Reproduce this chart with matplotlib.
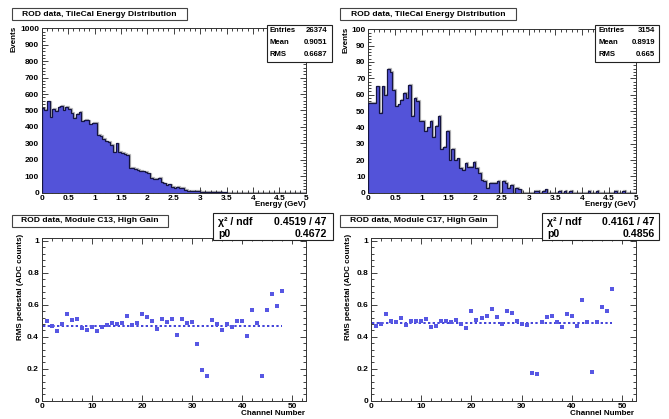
import numpy as np
import matplotlib
matplotlib.use("Agg")
import matplotlib.pyplot as plt
from matplotlib.ticker import MultipleLocator
import matplotlib.transforms as mtransforms

# ---------------- data ----------------
edges_energy = np.linspace(0, 5, 101)

hist_c13_counts = [513, 505, 555, 462, 510, 497, 520, 530, 500, 520,
                   512, 485, 456, 477, 492, 436, 442, 440, 416, 425,
                   425, 352, 345, 325, 312, 310, 290, 245, 300, 250,
                   243, 238, 232, 150, 150, 145, 140, 132, 130, 125,
                   118, 91, 83, 86, 91, 63, 57, 47, 50, 37,
                   27, 35, 27, 31, 16, 12, 12, 10, 10, 9,
                   7, 6, 5, 5, 4, 4, 3, 3, 2, 2,
                   1, 1, 1, 1, 0, 0, 1, 0, 0, 0,
                   0, 0, 0, 0, 0, 0, 0, 0, 0, 0,
                   0, 0, 0, 0, 0, 0, 0, 0, 0, 0]

hist_c17_counts = [55, 55, 55, 65, 49, 65, 60, 76, 74, 63,
                   53, 54, 57, 61, 58, 66, 47, 58, 56, 44,
                   44, 38, 40, 44, 34, 41, 47, 27, 28, 38,
                   20, 27, 20, 21, 15, 14, 18, 16, 16, 19,
                   15, 12, 8, 7, 3, 6, 6, 6, 7, 0,
                   7, 6, 3, 5, 0, 3, 2, 0, 0, 0,
                   0, 0, 1, 1, 0, 1, 2, 0, 0, 0,
                   0, 1, 0, 1, 0, 1, 0, 0, 0, 0,
                   0, 0, 1, 0, 0, 1, 0, 0, 0, 0,
                   0, 0, 1, 0, 0, 1, 0, 0, 0, 0]

channels = list(range(1, 49))
rms_c13 = [0.501, 0.470, 0.438, 0.480, 0.539, 0.503, 0.512, 0.453, 0.442, 0.461,
           0.434, 0.459, 0.474, 0.484, 0.480, 0.484, 0.532, 0.472, 0.484, 0.545,
           0.522, 0.501, 0.449, 0.512, 0.493, 0.512, 0.413, 0.512, 0.484, 0.493,
           0.354, 0.193, 0.155, 0.505, 0.480, 0.444, 0.480, 0.459, 0.501, 0.497,
           0.403, 0.566, 0.486, 0.155, 0.566, 0.669, 0.591, 0.683]
rms_c17 = [0.470, 0.480, 0.543, 0.497, 0.493, 0.514, 0.476, 0.501, 0.497, 0.497,
           0.512, 0.461, 0.470, 0.497, 0.497, 0.491, 0.503, 0.482, 0.455, 0.558,
           0.503, 0.514, 0.528, 0.574, 0.522, 0.480, 0.558, 0.547, 0.497, 0.480,
           0.476, 0.172, 0.168, 0.495, 0.524, 0.532, 0.491, 0.461, 0.545, 0.528,
           0.470, 0.629, 0.493, 0.178, 0.491, 0.587, 0.558, 0.700]

p0_c13 = 0.4672
p0_c17 = 0.4856
fit_range = [0.2, 48.0]

hist_titles = ["ROD data, TileCal Energy Distribution", "ROD data, TileCal Energy Distribution"]
graph_titles = ["ROD data, Module C13, High Gain", "ROD data, Module C17, High Gain"]
stats_hist = [[("Entries", "26374"), ("Mean", "0.9051"), ("RMS", "0.6687")],
              [("Entries", "3154"), ("Mean", "0.8919"), ("RMS", "0.665")]]
stats_fit = [[("χ² / ndf", "0.4519 / 47"), ("p0", "0.4672")],
             [("χ² / ndf", "0.4161 / 47"), ("p0", "0.4856")]]

# ---------------- style ----------------
W, H = 669, 419
FONT = "Liberation Sans"
plt.rcParams["font.family"] = [FONT, "DejaVu Sans"]

fill_col = "#5353d9"
edge_col = "#141440"
mark_col = "#5757e3"

fig = plt.figure(figsize=(W / 100, H / 100), dpi=100)
fig.patch.set_facecolor("white")


def rect(x0, y0, x1, y1):
    """pixel box (top-left origin) -> figure fraction [l, b, w, h]"""
    return [x0 / W, 1 - y1 / H, (x1 - x0) / W, (y1 - y0) / H]


def fx(x):
    return x / W


def fy(y):
    return 1 - y / H


def style_axes(ax, xmaj, xmin, ymaj, ymin):
    ax.xaxis.set_major_locator(MultipleLocator(xmaj))
    ax.xaxis.set_minor_locator(MultipleLocator(xmin))
    ax.yaxis.set_major_locator(MultipleLocator(ymaj))
    ax.yaxis.set_minor_locator(MultipleLocator(ymin))
    ax.tick_params(which="both", direction="in", top=True, right=True,
                   labelsize=6, pad=2, width=0.6, colors="#222222")
    ax.tick_params(which="major", length=4.0)
    ax.tick_params(which="minor", length=2.0)
    for lab in ax.get_xticklabels() + ax.get_yticklabels():
        lab.set_fontweight("bold")
        lab.set_color("black")
    for s in ax.spines.values():
        s.set_linewidth(0.7)
        s.set_color("#333333")


def title_box(x0, y0, x1, y1, text, fs):
    fig.patches.append(plt.Rectangle((fx(x0), fy(y1)), fx(x1) - fx(x0), fy(y0) - fy(y1),
                                     transform=fig.transFigure, facecolor="white",
                                     edgecolor="#444444", linewidth=0.8, zorder=5))
    fig.text(fx((x0 + x1) / 2), fy((y0 + y1) / 2), text, fontsize=fs, fontweight="bold",
             ha="center", va="center", zorder=6)


def stat_box(x0, y0, x1, y1, rows, row_y, name_x, val_x, fs):
    fig.patches.append(plt.Rectangle((fx(x0), fy(y1)), fx(x1) - fx(x0), fy(y0) - fy(y1),
                                     transform=fig.transFigure, facecolor="white",
                                     edgecolor="#222222", linewidth=0.8, zorder=5))
    for (name, val), yy in zip(rows, row_y):
        fig.text(fx(name_x), fy(yy), name, fontsize=fs, fontweight="bold",
                 ha="left", va="center", zorder=6)
        fig.text(fx(val_x), fy(yy), val, fontsize=fs, fontweight="bold",
                 ha="right", va="center", zorder=6)


# ---------------- histograms ----------------
hist_axes_px = [(41.7, 28.3, 305.7, 192.7), (368.3, 29.3, 635.7, 192.7)]
hist_data = [hist_c13_counts, hist_c17_counts]
hist_ylim = [1000, 100]
hist_ytick = [(100, 20), (10, 2)]

for i in range(2):
    ax = fig.add_axes(rect(*hist_axes_px[i]))
    ax.stairs(hist_data[i], edges_energy, fill=True, color=fill_col, zorder=2)
    shadow = mtransforms.offset_copy(ax.transData, fig=fig, x=1.0, y=0.8, units="dots")
    ax.stairs(hist_data[i], edges_energy, color="#b8b8b8", linewidth=0.9,
              transform=shadow, zorder=1.5)
    ax.stairs(hist_data[i], edges_energy, color=edge_col, linewidth=0.9, zorder=3)
    ax.set_xlim(0, 5)
    ax.set_ylim(0, hist_ylim[i])
    style_axes(ax, 0.5, 0.1, *hist_ytick[i])
    ax.set_xticks([0, 0.5, 1, 1.5, 2, 2.5, 3, 3.5, 4, 4.5, 5])
    ax.set_xticklabels(["0", "0.5", "1", "1.5", "2", "2.5", "3", "3.5", "4", "4.5", "5"],
                       fontweight="bold")

# titles / labels for histograms
title_box(12, 8.3, 186.7, 20, hist_titles[0], 6.1)
title_box(340, 8.3, 515.7, 20, hist_titles[1], 6.1)
stat_box(266.7, 25, 331.5, 61.7, stats_hist[0], [30.7, 42.7, 54.3], 269.8, 327.5, 5.6)
stat_box(595, 25, 659, 62, stats_hist[1], [30.7, 42.5, 55], 598.5, 655.5, 5.6)

fig.text(fx(14.5), fy(26), "Events", rotation=90, fontsize=5.8, fontweight="bold",
         ha="center", va="top")
fig.text(fx(346), fy(27), "Events", rotation=90, fontsize=5.8, fontweight="bold",
         ha="center", va="top")
fig.text(fx(305.7), fy(204.5), "Energy (GeV)", fontsize=5.8, fontweight="bold",
         ha="right", va="center")
fig.text(fx(635.7), fy(204.5), "Energy (GeV)", fontsize=5.8, fontweight="bold",
         ha="right", va="center")

# ---------------- graphs ----------------
graph_axes_px = [(41.7, 237.5, 306, 400.7), (371, 237.5, 635.7, 400.7)]
graph_data = [rms_c13, rms_c17]
graph_p0 = [p0_c13, p0_c17]

for i in range(2):
    ax = fig.add_axes(rect(*graph_axes_px[i]))
    ax.plot(channels, graph_data[i], linestyle="none", marker="s", markersize=3.5,
            color=mark_col, markeredgewidth=0, zorder=3)
    ax.plot(fit_range, [graph_p0[i], graph_p0[i]], linestyle=(0, (1.2, 1.2)),
            color="#4040d8", linewidth=1.4, zorder=2)
    ax.set_xlim(0, 52.7)
    ax.set_ylim(0, 1.02)
    style_axes(ax, 10, 2, 0.2, 0.04)
    ax.set_yticks([0, 0.2, 0.4, 0.6, 0.8, 1.0])
    ax.set_yticklabels(["0", "0.2", "0.4", "0.6", "0.8", "1"], fontweight="bold")

title_box(12, 215, 168, 226.7, graph_titles[0], 6.1)
title_box(340, 215, 497, 226.7, graph_titles[1], 6.1)
stat_box(213.3, 212.5, 332.7, 240.5, stats_fit[0], [221.7, 234], 218.3, 326.7, 7.6)
stat_box(542.3, 212.5, 659, 240.5, stats_fit[1], [221.7, 234], 547.3, 654.7, 7.6)

fig.text(fx(20.7), fy(234), "RMS pedestal (ADC counts)", rotation=90, fontsize=5.8,
         fontweight="bold", ha="center", va="top")
fig.text(fx(349), fy(234), "RMS pedestal (ADC counts)", rotation=90, fontsize=5.8,
         fontweight="bold", ha="center", va="top")
fig.text(fx(305), fy(413.3), "Channel Number", fontsize=5.8, fontweight="bold",
         ha="right", va="center")
fig.text(fx(634), fy(413.3), "Channel Number", fontsize=5.8, fontweight="bold",
         ha="right", va="center")

fig.savefig("out.png", dpi=100, facecolor="white")
